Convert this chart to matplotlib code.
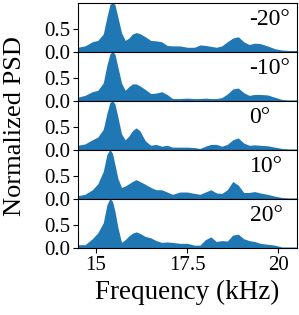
import numpy as np
import matplotlib
matplotlib.use('Agg')
import matplotlib.pyplot as plt

plt.rcParams['font.family'] = ['Liberation Serif', 'DejaVu Serif']
plt.rcParams['mathtext.fontset'] = 'stix'

# frequency grid (kHz) shared by all angles
freq = [14.5, 14.7, 14.9, 15.05, 15.2, 15.3, 15.38, 15.45, 15.52, 15.6,
        15.7, 15.8, 15.9, 16.0, 16.1, 16.2, 16.35, 16.5, 16.65, 16.8,
        16.95, 17.1, 17.3, 17.5, 17.7, 17.85, 18.0, 18.15, 18.3, 18.45,
        18.6, 18.75, 18.9, 19.05, 19.2, 19.35, 19.5, 19.7, 19.9, 20.1,
        20.3, 20.5]

angles = ['-20°', '-10°', '0°', '10°', '20°']

# normalized PSD, one list per angle
psd_m20 = [0.10, 0.13, 0.22, 0.25, 0.39, 0.76, 1.03, 1.08, 1.03, 0.76,
           0.42, 0.25, 0.30, 0.39, 0.42, 0.40, 0.33, 0.25, 0.24, 0.22,
           0.14, 0.13, 0.13, 0.10, 0.10, 0.15, 0.14, 0.12, 0.10, 0.13,
           0.22, 0.30, 0.33, 0.22, 0.16, 0.19, 0.18, 0.13, 0.07, 0.04,
           0.03, 0.03]
psd_m10 = [0.08, 0.12, 0.20, 0.23, 0.39, 0.78, 1.02, 1.08, 1.02, 0.74,
           0.39, 0.23, 0.31, 0.37, 0.37, 0.33, 0.25, 0.16, 0.17, 0.20,
           0.14, 0.05, 0.05, 0.06, 0.05, 0.05, 0.06, 0.05, 0.05, 0.07,
           0.15, 0.26, 0.28, 0.18, 0.12, 0.14, 0.14, 0.13, 0.08, 0.03,
           0.02, 0.02]
psd_0 = [0.10, 0.13, 0.22, 0.28, 0.45, 0.80, 1.03, 1.08, 1.00, 0.72,
         0.35, 0.22, 0.30, 0.42, 0.48, 0.42, 0.20, 0.10, 0.12, 0.08,
         0.10, 0.06, 0.06, 0.06, 0.05, 0.03, 0.08, 0.12, 0.12, 0.08,
         0.12, 0.22, 0.26, 0.15, 0.10, 0.11, 0.10, 0.09, 0.06, 0.03,
         0.02, 0.02]
psd_10 = [0.07, 0.10, 0.20, 0.33, 0.60, 0.97, 1.08, 1.00, 0.75, 0.45,
          0.25, 0.28, 0.33, 0.38, 0.42, 0.38, 0.32, 0.25, 0.20, 0.20,
          0.15, 0.10, 0.15, 0.15, 0.12, 0.10, 0.15, 0.20, 0.13, 0.12,
          0.20, 0.38, 0.30, 0.14, 0.14, 0.16, 0.13, 0.10, 0.06, 0.03,
          0.02, 0.02]
psd_20 = [0.07, 0.07, 0.20, 0.33, 0.55, 0.94, 1.08, 1.02, 0.80, 0.45,
          0.12, 0.18, 0.26, 0.32, 0.35, 0.32, 0.25, 0.22, 0.16, 0.12,
          0.13, 0.12, 0.10, 0.10, 0.06, 0.06, 0.18, 0.24, 0.14, 0.16,
          0.15, 0.28, 0.30, 0.20, 0.16, 0.14, 0.10, 0.08, 0.06, 0.02,
          0.02, 0.02]

series = [psd_m20, psd_m10, psd_0, psd_10, psd_20]

fig, axes = plt.subplots(5, 1, sharex=True, figsize=(2.99, 3.15), dpi=100)
fig.subplots_adjust(left=0.26, right=0.992, top=0.991, bottom=0.213, hspace=0)

for ax, vals, lab in zip(axes, series, angles):
    ax.fill_between(freq, vals, 0, color='#1f77b4', lw=0)
    ax.set_ylim(0, 1.07)
    ax.set_xlim(14.5, 20.5)
    ax.set_yticks([0, 0.5])
    ax.set_yticklabels(['0.0', '0.5'])
    ax.tick_params(labelsize=15, pad=2)
    ax.text(0.785, 0.66, lab, transform=ax.transAxes, fontsize=17,
            ha='left', va='center')

axes[-1].set_xticks([15, 17.5, 20])
axes[-1].set_xticklabels(['15', '17.5', '20'])
axes[-1].set_xlabel('Frequency (kHz)', fontsize=19.5, labelpad=4)
fig.text(0.05, 0.6, 'Normalized PSD', rotation=90, fontsize=19,
         ha='center', va='center')

fig.savefig('out.png', dpi=100)
